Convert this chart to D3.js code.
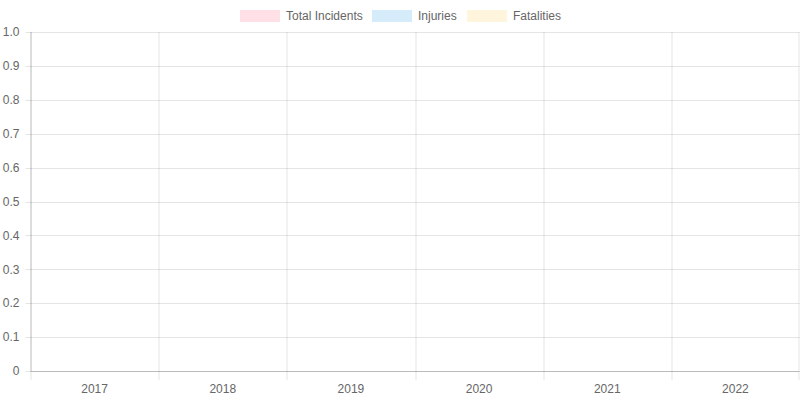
<!DOCTYPE html>
<html>
<head>
<meta charset="utf-8">
<script src="https://cdn.jsdelivr.net/npm/d3@7"></script>
<style>
  body { margin: 0; background: #fff; }
  text { font-family: "Liberation Sans", Arial, Helvetica, sans-serif; font-size: 12px; fill: #666; }
</style>
</head>
<body>
<svg id="chart" width="800" height="400"></svg>
<script>
// data
const years = ['2017', '2018', '2019', '2020', '2021', '2022'];
const seriesNames = ['Total Incidents', 'Injuries', 'Fatalities'];
const totalIncidents = [0, 0, 0, 0, 0, 0];
const injuries = [0, 0, 0, 0, 0, 0];
const fatalities = [0, 0, 0, 0, 0, 0];
const yTicks = [0, 0.1, 0.2, 0.3, 0.4, 0.5, 0.6, 0.7, 0.8, 0.9, 1.0];

const fills = ['rgba(255,99,132,0.2)', 'rgba(54,162,235,0.2)', 'rgba(255,206,86,0.2)'];
const strokes = ['rgba(255,99,132,1)', 'rgba(54,162,235,1)', 'rgba(255,206,86,1)'];

const width = 800, height = 400;
const margin = {top: 32, right: 0.5, bottom: 29, left: 30.5};
const innerWidth = width - margin.left - margin.right;
const innerHeight = height - margin.top - margin.bottom;

const svg = d3.select('#chart');
const g = svg.append('g').attr('transform', `translate(${margin.left},${margin.top})`);

const xScale = d3.scaleBand().domain(years).range([0, innerWidth]);
const x1 = d3.scaleBand().domain(seriesNames).range([0, xScale.bandwidth()]).paddingInner(0).paddingOuter(0);
const yScale = d3.scaleLinear().domain([0, 1]).range([innerHeight, 0]);

const gridColor = 'rgba(0,0,0,0.1)';

// horizontal grid + y labels
const yAxisG = g.append('g');
yAxisG.selectAll('line.h').data(yTicks).enter().append('line')
  .attr('x1', -5).attr('x2', innerWidth)
  .attr('y1', d => Math.round(yScale(d)) + 0.5)
  .attr('y2', d => Math.round(yScale(d)) + 0.5)
  .attr('stroke', gridColor);
yAxisG.selectAll('text').data(yTicks).enter().append('text')
  .attr('x', -11)
  .attr('y', d => yScale(d))
  .attr('dy', '0.35em')
  .attr('text-anchor', 'end')
  .text(d => d === 0 ? '0' : d.toFixed(1));

// vertical grid + x labels
const xBounds = years.map(d => xScale(d)).concat([innerWidth]);
const xAxisG = g.append('g');
xAxisG.selectAll('line.v').data(xBounds).enter().append('line')
  .attr('x1', d => Math.round(d) + 0.5 - (d === innerWidth ? 1 : 0))
  .attr('x2', d => Math.round(d) + 0.5 - (d === innerWidth ? 1 : 0))
  .attr('y1', 0).attr('y2', innerHeight + 9)
  .attr('stroke', gridColor);
xAxisG.selectAll('text').data(years).enter().append('text')
  .attr('x', d => xScale(d) + xScale.bandwidth() / 2)
  .attr('y', innerHeight + 18)
  .attr('dy', '0.35em')
  .attr('text-anchor', 'middle')
  .text(d => d);

// axis borders
g.append('line').attr('x1', 0.5).attr('x2', 0.5).attr('y1', 0).attr('y2', innerHeight)
  .attr('stroke', 'rgba(0,0,0,0.18)');
g.append('line').attr('x1', 0).attr('x2', innerWidth).attr('y1', innerHeight + 0.5).attr('y2', innerHeight + 0.5)
  .attr('stroke', 'rgba(0,0,0,0.18)');

// bars (all zero)
const seriesValues = [totalIncidents, injuries, fatalities];
const barW = xScale.bandwidth() * 0.8 / 3;
seriesValues.forEach((vals, si) => {
  g.append('g').selectAll('rect').data(vals).enter().append('rect')
    .attr('x', (d, i) => xScale(years[i]) + xScale.bandwidth() * 0.1 + si * barW + barW * 0.1)
    .attr('width', barW * 0.8)
    .attr('y', d => yScale(d))
    .attr('height', d => innerHeight - yScale(d))
    .attr('fill', fills[si])
    .attr('stroke', d => d > 0 ? strokes[si] : 'none');
});

// legend
const legendItems = [
  {name: seriesNames[0], x: 240, fill: fills[0]},
  {name: seriesNames[1], x: 372, fill: fills[1]},
  {name: seriesNames[2], x: 467, fill: fills[2]}
];
const legend = svg.append('g');
legendItems.forEach(it => {
  legend.append('rect').attr('x', it.x).attr('y', 10).attr('width', 40).attr('height', 12)
    .attr('fill', it.fill);
  legend.append('text').attr('x', it.x + 46).attr('y', 16).attr('dy', '0.35em').text(it.name);
});
</script>
</body>
</html>
